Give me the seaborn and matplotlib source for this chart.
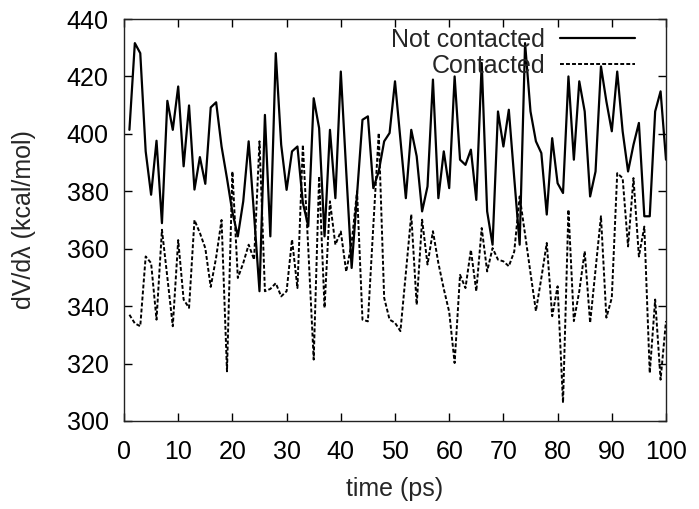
import matplotlib
matplotlib.use("Agg")
import matplotlib.pyplot as plt
import numpy as np
import pandas as pd
import seaborn as sns

# dV/dlambda time series, one sample per ps
time_ps = list(range(1, 101))

not_contacted = [
    401.4, 431.6, 428.1, 393.9, 378.8, 397.6, 368.9, 411.5, 401.4, 416.5,
    388.7, 409.9, 380.6, 391.9, 382.6, 409.2, 411.0, 395.6, 384.5, 372.7,
    364.3, 376.5, 397.4, 371.8, 345.2, 406.6, 364.3, 428.1, 396.2, 380.5,
    393.9, 395.6, 376.0, 367.8, 412.4, 402.0, 364.3, 401.4, 377.6, 421.7,
    387.0, 353.3, 379.0, 404.9, 406.1, 381.1, 386.9, 397.4, 400.3, 418.3,
    398.0, 377.6, 401.4, 392.2, 373.0, 381.7, 418.9, 377.6, 393.9, 381.1,
    420.0, 391.0, 389.2, 394.5, 377.0, 424.7, 373.0, 361.4, 407.8, 395.6,
    408.4, 384.6, 361.4, 431.6, 407.8, 397.4, 393.3, 371.9, 398.5, 382.8,
    379.4, 420.0, 391.0, 418.3, 407.8, 378.2, 386.9, 423.5, 411.3, 400.9,
    421.7, 400.9, 386.9, 396.2, 403.8, 371.3, 371.3, 407.8, 414.8, 391.0,
]

contacted = [
    337.0, 334.0, 333.0, 357.3, 355.0, 335.3, 366.6, 350.0, 333.0, 363.0,
    342.3, 339.4, 370.0, 365.5, 360.2, 346.7, 357.0, 370.0, 317.3, 386.9,
    349.8, 355.0, 361.4, 356.2, 397.4, 345.2, 346.0, 348.0, 343.4, 345.2,
    363.2, 346.3, 396.2, 360.0, 321.4, 385.2, 339.4, 376.5, 361.4, 366.0,
    352.0, 362.0, 380.0, 335.3, 334.7, 368.0, 400.3, 342.9, 335.3, 334.2,
    331.3, 351.5, 371.9, 340.5, 370.1, 354.5, 366.1, 355.0, 346.0, 338.0,
    320.2, 350.9, 346.3, 359.6, 345.2, 367.2, 352.1, 360.2, 356.2, 355.6,
    353.9, 359.0, 378.2, 365.0, 351.5, 338.3, 349.8, 362.0, 336.5, 346.9,
    306.3, 373.6, 334.8, 345.2, 359.1, 334.2, 352.7, 371.3, 336.0, 342.9,
    386.3, 384.6, 360.8, 384.6, 357.3, 367.7, 316.7, 342.3, 314.4, 334.8,
]

x_ticks = list(range(0, 101, 10))
y_ticks = list(range(300, 441, 20))

df = pd.DataFrame({"time": time_ps, "not_contacted": not_contacted,
                   "contacted": contacted})

sns.set_style("ticks")
plt.rcParams['font.family'] = ['Liberation Sans', 'DejaVu Sans']

fig = plt.figure(figsize=(6.99, 5.09), dpi=100)
ax = fig.add_axes([124 / 699, 1 - 421 / 509, 542 / 699, 402 / 509])

sns.lineplot(data=df, x="time", y="not_contacted", color="black", lw=1.6,
             label="Not contacted", ax=ax)
sns.lineplot(data=df, x="time", y="contacted", color="black", lw=1.4,
             linestyle=(0, (2.0, 1.1)), label="Contacted", ax=ax)

ax.set_xlim(0, 100)
ax.set_ylim(300, 440)
ax.set_xticks(x_ticks)
ax.set_yticks(y_ticks)
ax.tick_params(direction="in", length=6, width=1, top=True, right=True,
               labelsize=18, colors="black")
ax.tick_params(axis="y", pad=11)
ax.tick_params(axis="x", pad=14)
for s in ax.spines.values():
    s.set_linewidth(1)
    s.set_color("#222222")

ax.set_xlabel("time (ps)", fontsize=18, labelpad=9)
ax.set_ylabel("dV/dλ (kcal/mol)", fontsize=18, labelpad=22)

ax.legend(loc="upper right", bbox_to_anchor=(0.943, 0.977), frameon=False,
          markerfirst=False, handlelength=3, handletextpad=0.6,
          labelspacing=0.08, borderaxespad=0, borderpad=0, fontsize=18)

fig.savefig("out.png", dpi=100)
